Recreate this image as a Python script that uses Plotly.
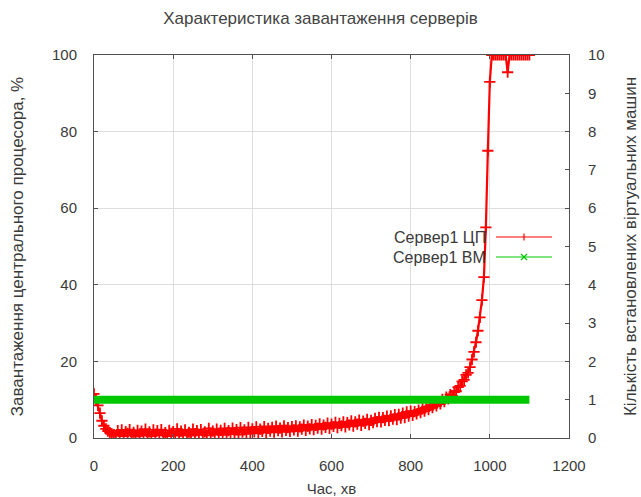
import plotly.graph_objects as go

title_text = "Характеристика завантаження серверів"
x_title = "Час, хв"
y_title = "Завантаження центрального процесора, %"
y2_title = "Кількість встановлених віртуальних машин"
cpu_name = "Сервер1 ЦП"
vm_name = "Сервер1 ВМ"

time_min = list(range(0, 1101, 5))

cpu_load = [
    11.5, 10.0, 8.5, 6.5, 4.5, 3.2, 2.4, 1.8, 1.4, 1.1, 0.9,
    0.6, 1.9, 0.9, 2.1, 0.5, 1.7, 1.2, 2.2, 0.7, 1.5,
    0.4, 2.0, 1.1, 1.8, 0.6, 2.3, 0.9, 1.6, 0.5, 2.1,
    1.0, 1.9, 0.7, 2.2, 0.8, 1.4, 0.5, 2.0, 1.2, 1.7,
    0.6, 2.4, 1.0, 1.8, 0.7, 2.1, 0.9, 1.5, 0.6, 2.3,
    1.1, 1.9, 0.8, 2.2, 1.0, 1.6, 0.7, 2.5, 1.2, 1.8,
    0.9, 2.3, 1.2, 2.0, 0.8, 2.5, 1.3, 1.9, 1.0, 2.6,
    1.4, 2.2, 0.9, 2.7, 1.5, 2.1, 1.1, 2.8, 1.3, 2.4,
    1.6, 2.9, 1.2, 2.3, 1.7, 3.0, 1.4, 2.5, 1.8, 2.8,
    1.5, 3.1, 1.9, 2.6, 1.6, 3.2, 2.0, 2.7, 1.7, 3.0,
    2.1, 3.2, 1.8, 2.9, 2.3, 3.4, 2.0, 3.1, 2.4, 3.5,
    2.2, 3.3, 2.6, 3.7, 2.3, 3.4, 2.8, 3.9, 2.5, 3.6,
    3.0, 4.1, 2.7, 3.8, 3.2, 4.2, 2.9, 4.0, 3.4, 4.5,
    3.1, 4.2, 3.6, 4.7, 3.3, 4.4, 3.8, 4.9, 3.5, 4.6,
    4.0, 5.1, 4.3, 5.4, 4.2, 5.3, 4.6, 5.7, 4.5, 5.8,
    4.9, 6.1, 4.8, 6.2, 5.2, 6.5, 5.3, 6.8, 5.7, 7.0,
    5.9, 6.9, 6.3, 7.3, 6.6, 7.6, 7.0, 8.1, 7.4, 8.5,
    7.9, 9.0, 8.4, 9.5, 8.9, 10.1, 9.5, 10.7, 10.2, 11.3,
    11.0, 12.0, 12.2, 13.3, 13.6, 14.8, 15.2, 16.5, 17.0, 18.5,
    20.5, 22.5, 25.0, 28.0, 31.5, 36.0, 42.0, 55.0, 75.0, 93.0,
    100, 100, 100, 100, 100, 100, 100, 100, 95.5, 100,
    100, 100, 100, 100, 100, 100, 100, 100, 100, 100,
]

vm_time = [0, 1100]
vm_count = [1, 1]

x_ticks = [0, 200, 400, 600, 800, 1000, 1200]
y_ticks = [0, 20, 40, 60, 80, 100]
y2_ticks = [0, 1, 2, 3, 4, 5, 6, 7, 8, 9, 10]

RED = "#ff0000"
GREEN = "#00c800"
TXT = "#3a3a3a"
FONT = "Liberation Sans, Arial, sans-serif"
FS = 15

# plot area in pixels
W, H = 641, 497
L, R, T, B = 94, 569, 55, 438


def px(xp):
    return (xp - L) / (R - L)


def py(yp):
    return (B - yp) / (B - T)


fig = go.Figure()
fig.add_trace(go.Scatter(
    x=time_min, y=cpu_load, mode="lines+markers", name=cpu_name,
    line=dict(color=RED, width=2.2),
    marker=dict(symbol="cross-thin", size=8, line=dict(color=RED, width=1.8)),
    showlegend=False,
))
fig.add_trace(go.Scatter(
    x=vm_time, y=vm_count, mode="lines", name=vm_name, yaxis="y2",
    line=dict(color=GREEN, width=8),
    showlegend=False,
))

axis_common = dict(
    showline=True, linecolor="#505050", linewidth=1,
    ticks="inside", ticklen=4, tickcolor="#505050",
    tickfont=dict(family=FONT, size=FS, color=TXT),
    zeroline=False, automargin=False,
)

# legend drawn gnuplot-style: text on the left, sample on the right
leg_y = [237, 257]
shapes = []
annotations = []
for name, color, yy in [(cpu_name, RED, leg_y[0]), (vm_name, GREEN, leg_y[1])]:
    annotations.append(dict(
        x=px(488), y=py(yy), xref="paper", yref="paper", text=name,
        showarrow=False, xanchor="right", yanchor="middle",
        font=dict(family=FONT, size=16, color=TXT),
    ))
    shapes.append(dict(type="line", xref="paper", yref="paper",
                       x0=px(496), x1=px(552), y0=py(yy), y1=py(yy),
                       line=dict(color=color, width=1.2)))
shapes.append(dict(type="line", xref="paper", yref="paper",
                   x0=px(524), x1=px(524), y0=py(leg_y[0] - 3.5), y1=py(leg_y[0] + 3.5),
                   line=dict(color=RED, width=1.2)))
shapes.append(dict(type="line", xref="paper", yref="paper",
                   x0=px(521), x1=px(527), y0=py(leg_y[1] - 3), y1=py(leg_y[1] + 3),
                   line=dict(color=GREEN, width=1.2)))
shapes.append(dict(type="line", xref="paper", yref="paper",
                   x0=px(521), x1=px(527), y0=py(leg_y[1] + 3), y1=py(leg_y[1] - 3),
                   line=dict(color=GREEN, width=1.2)))

fig.update_layout(
    width=W, height=H,
    margin=dict(l=L, r=W - R, t=T, b=H - B, pad=0, autoexpand=False),
    paper_bgcolor="white", plot_bgcolor="white",
    title=dict(text=title_text, x=px((L + R) / 2), xanchor="center",
               y=1 - 18 / H, yanchor="middle",
               font=dict(family=FONT, size=17, color="#444444")),
    xaxis=dict(
        range=[0, 1200], tickvals=x_ticks, mirror="ticks",
        showgrid=True, gridcolor="#dedede", gridwidth=1,
        ticklabelstandoff=14,
        title=dict(text=x_title, font=dict(family=FONT, size=FS, color=TXT), standoff=14),
        **axis_common,
    ),
    yaxis=dict(
        range=[0, 100], tickvals=y_ticks,
        showgrid=True, gridcolor="#dedede", gridwidth=1,
        ticklabelstandoff=13,
        title=dict(text=y_title, font=dict(family=FONT, size=17, color=TXT), standoff=24),
        **axis_common,
    ),
    yaxis2=dict(
        range=[0, 10], tickvals=y2_ticks, overlaying="y", side="right",
        showgrid=False, ticklabelstandoff=15,
        title=dict(text=y2_title, font=dict(family=FONT, size=17, color=TXT), standoff=20),
        **axis_common,
    ),
    shapes=shapes,
    annotations=annotations,
)

fig.write_html("out.html")
